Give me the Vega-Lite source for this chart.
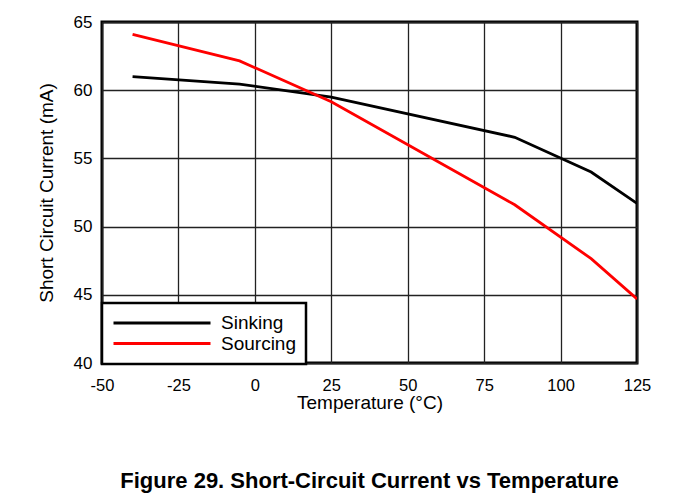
{
  "$schema": "https://vega.github.io/schema/vega-lite/v6.json",
  "autosize": "none",
  "width": 535,
  "height": 341,
  "padding": {"left": 102, "top": 22, "right": 36, "bottom": 138},
  "background": "white",
  "title": {
    "text": "Figure 29. Short-Circuit Current vs Temperature",
    "orient": "bottom",
    "anchor": "middle",
    "font": "Liberation Sans",
    "fontSize": 22,
    "fontWeight": "bold",
    "color": "black",
    "offset": 58
  },
  "data": {
    "values": [
      {"temp": -40, "current": 61.0, "mode": "Sinking"},
      {"temp": -5, "current": 60.45, "mode": "Sinking"},
      {"temp": 25, "current": 59.5, "mode": "Sinking"},
      {"temp": 85, "current": 56.55, "mode": "Sinking"},
      {"temp": 110, "current": 54.0, "mode": "Sinking"},
      {"temp": 125, "current": 51.7, "mode": "Sinking"},
      {"temp": -40, "current": 64.1, "mode": "Sourcing"},
      {"temp": -5, "current": 62.15, "mode": "Sourcing"},
      {"temp": 25, "current": 59.15, "mode": "Sourcing"},
      {"temp": 85, "current": 51.6, "mode": "Sourcing"},
      {"temp": 110, "current": 47.65, "mode": "Sourcing"},
      {"temp": 125, "current": 44.7, "mode": "Sourcing"}
    ]
  },
  "mark": {"type": "line", "strokeWidth": 2.8, "clip": true},
  "encoding": {
    "x": {
      "field": "temp",
      "type": "quantitative",
      "scale": {"domain": [-50, 125], "nice": false, "zero": false},
      "axis": {
        "title": "Temperature (°C)",
        "values": [-50, -25, 0, 25, 50, 75, 100, 125],
        "labelExpr": "replace(datum.label, '−', '-')",
        "labelFlush": false,
        "labelOverlap": false,
        "labelFontSize": 16.5,
        "labelPadding": 14,
        "titlePadding": 0
      }
    },
    "y": {
      "field": "current",
      "type": "quantitative",
      "scale": {"domain": [40, 65], "nice": false, "zero": false},
      "axis": {
        "title": "Short Circuit Current (mA)",
        "values": [40, 45, 50, 55, 60, 65],
        "labelFlush": false,
        "labelFontSize": 17,
        "labelPadding": 10,
        "titlePadding": 17
      }
    },
    "color": {
      "field": "mode",
      "type": "nominal",
      "scale": {"domain": ["Sinking", "Sourcing"], "range": ["#000000", "#ff0000"]},
      "legend": {
        "title": null,
        "orient": "none",
        "legendX": 0,
        "legendY": 281,
        "symbolType": "stroke",
        "symbolSize": 9409,
        "symbolStrokeWidth": 3,
        "clipHeight": 20,
        "rowPadding": 0.6,
        "labelOffset": 9,
        "padding": 10,
        "fillColor": "white",
        "strokeColor": "black",
        "labelFontSize": 19,
        "labelFont": "Liberation Sans",
        "labelColor": "black"
      }
    }
  },
  "config": {
    "font": "Liberation Sans",
    "view": {"stroke": "black", "strokeWidth": 3},
    "axis": {
      "domain": false,
      "ticks": false,
      "grid": true,
      "gridColor": "#222222",
      "gridWidth": 1.3,
      "gridOpacity": 1,
      "labelFont": "Liberation Sans",
      "labelColor": "black",
      "titleFont": "Liberation Sans",
      "titleFontSize": 19,
      "titleFontWeight": "normal",
      "titleColor": "black"
    },
    "legend": {"strokeWidth": 2.5, "cornerRadius": 0}
  }
}
